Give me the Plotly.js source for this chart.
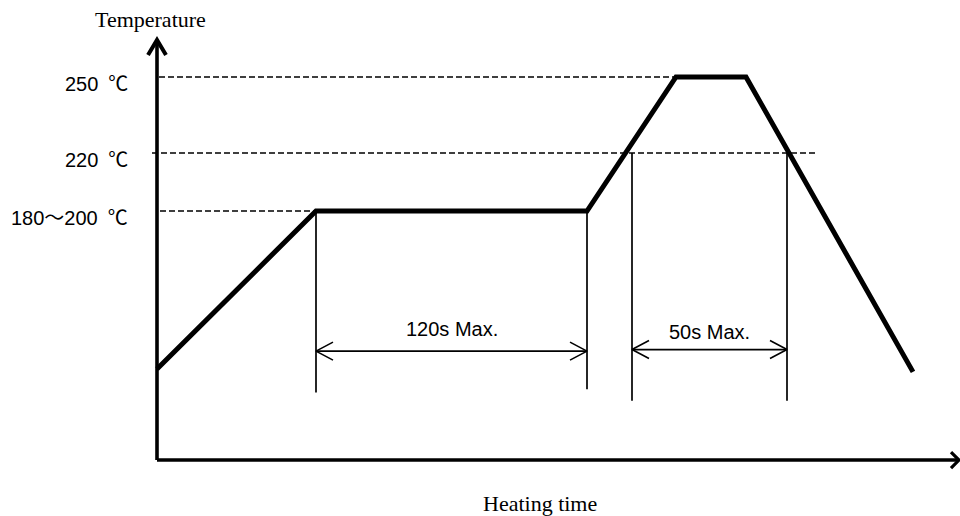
<!DOCTYPE html>
<html><head><meta charset="utf-8">
<script src="https://cdn.plot.ly/plotly-3.0.1.min.js"></script>
<style>html,body{margin:0;padding:0;background:#fff}</style>
</head><body><div id="chart" style="width:960px;height:516px"></div>
<script>
// Reflow profile (time in diagram units, temperature in °C)
const profileTime = [0, 159, 430, 519, 589, 756];
const profileTemp = [134.7, 197.1, 197.1, 250, 250, 133.6];
// Reference levels (dashed lines) and their labels
const levelTemps = [250, 220, 197.1];
const levelLabels = ["250\u2002℃", "220\u2002℃", "180～200\u2002℃"];
const levelStart = [2, -5, 3];
const levelEnd = [519, 659, 159];
// Vertical time markers
const markerTime = [159, 430, 475, 630];
const markerTop = [197.1, 197.1, 220, 220];
const markerBottom = [125.5, 126.7, 122.2, 122.2];
// Dimension spans
const spanStart = [159, 475];
const spanEnd = [430, 630];
const spanTemp = [141.8, 142.4];
const spanLabels = ["120s Max.", "50s Max."];
const spanLabelTemp = [150.5, 149.3];
// Axes
const axisTitles = ["Temperature", "Heating time"];
const originTemp = 98.8;
const tempTop = 264.6;
const timeEnd = 802;

const degPerPx = 30 / 76;
const traces = [];
function seg(xs, ys, width, dash) {
  traces.push({x: xs, y: ys, mode: 'lines', type: 'scatter', hoverinfo: 'skip', showlegend: false,
    line: {color: '#000', width: width, dash: dash || 'solid', shape: 'linear'}});
}
// dashed level lines
{
  const xs = [], ys = [];
  levelTemps.forEach((t, i) => { xs.push(levelStart[i], levelEnd[i], null); ys.push(t, t, null); });
  seg(xs, ys, 1.5, '6px,3px');
}
// vertical markers
{
  const xs = [], ys = [];
  markerTime.forEach((m, i) => { xs.push(m, m, null); ys.push(markerTop[i], markerBottom[i], null); });
  seg(xs, ys, 1.7);
}
// spans with open arrowheads
{
  const xs = [], ys = [];
  const ax = 17, ay = 9 * degPerPx;
  spanStart.forEach((s, i) => {
    const e = spanEnd[i], t = spanTemp[i];
    xs.push(s, e, null); ys.push(t, t, null);
    xs.push(s + ax, s, s + ax, null); ys.push(t + ay, t, t - ay, null);
    xs.push(e - ax, e, e - ax, null); ys.push(t + ay, t, t - ay, null);
  });
  seg(xs, ys, 1.6);
}
// axes
{
  const xs = [0, 0, null, 0, timeEnd, null], ys = [tempTop, originTemp, null, originTemp, originTemp, null];
  seg(xs, ys, 3.6);
  const yd = 15 * degPerPx;
  seg([-9, 0, 9], [tempTop - yd, tempTop, tempTop - yd], 4);
  const xd = 8 * degPerPx;
  seg([timeEnd - 8, timeEnd, timeEnd - 8], [originTemp + xd, originTemp, originTemp - xd], 3.2);
}
// profile
seg(profileTime, profileTemp, 5);

const annotations = [];
levelLabels.forEach((l, i) => annotations.push({x: -27, y: levelTemps[i], xref: 'x', yref: 'y', text: l,
  showarrow: false, xanchor: 'right', yanchor: 'middle', yshift: -7,
  font: {family: 'Liberation Sans, Noto Sans CJK JP, sans-serif', size: 20, color: '#000'}}));
spanLabels.forEach((l, i) => annotations.push({x: (spanStart[i] + spanEnd[i]) / 2, y: spanLabelTemp[i], xref: 'x', yref: 'y', text: l,
  showarrow: false, xanchor: 'center', yanchor: 'middle',
  font: {family: 'Liberation Sans, sans-serif', size: 20, color: '#000'}}));
annotations.push({x: -7, y: 272.5, xref: 'x', yref: 'y', text: axisTitles[0], showarrow: false, xanchor: 'center', yanchor: 'middle',
  font: {family: 'Liberation Serif, serif', size: 22, color: '#000'}});
annotations.push({x: 383, y: 81.8, xref: 'x', yref: 'y', text: axisTitles[1], showarrow: false, xanchor: 'center', yanchor: 'middle',
  font: {family: 'Liberation Serif, serif', size: 22, color: '#000'}});

const layout = {
  width: 960, height: 516, margin: {l: 0, r: 0, t: 0, b: 0},
  paper_bgcolor: '#fff', plot_bgcolor: '#fff',
  xaxis: {range: [-157, 803], visible: false, fixedrange: true},
  yaxis: {range: [76.71, 280.39], visible: false, fixedrange: true},
  annotations: annotations, showlegend: false
};
Plotly.newPlot('chart', traces, layout, {staticPlot: true, displayModeBar: false});
</script></body></html>
